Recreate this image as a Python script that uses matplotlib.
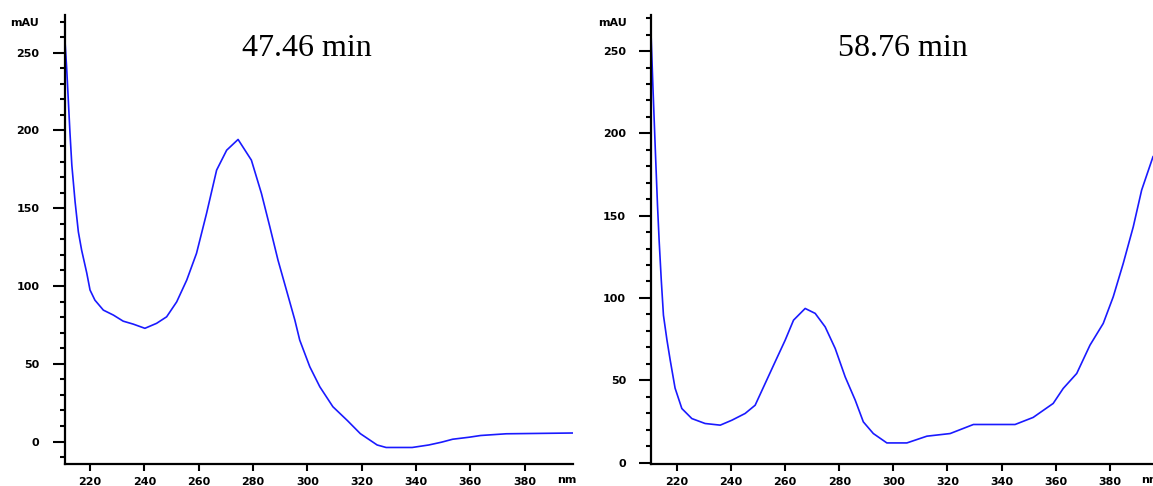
import matplotlib.pyplot as plt
from matplotlib.ticker import MultipleLocator

# spectrum at 47.46 min
wl_a = [210.6, 211.4, 212.0, 212.6, 213.3, 214.5, 215.7, 216.9, 218.8, 220.0,
        221.8, 224.9, 228.6, 232.2, 235.9, 240.2, 244.5, 248.2, 251.9, 255.6,
        259.2, 262.9, 266.6, 270.3, 274.5, 279.4, 283.1, 286.2, 289.2, 292.3,
        295.4, 297.2, 300.9, 304.6, 309.4, 314.8, 319.5, 325.7, 329.0, 338.6,
        344.7, 349.4, 353.5, 359.6, 363.8, 373.2, 397.7]
mau_a = [262.5, 240.0, 219.5, 198.9, 177.7, 154.1, 134.8, 123.1, 108.3, 97.4,
         90.9, 84.5, 81.3, 77.4, 75.5, 72.8, 76.0, 80.2, 89.8, 103.8,
         121.0, 146.7, 174.5, 187.3, 194.2, 180.9, 159.5, 138.0, 116.6, 97.4,
         78.1, 65.2, 48.1, 35.2, 22.4, 13.4, 5.1, -2.2, -3.8, -3.8,
         -2.2, -0.4, 1.5, 2.8, 3.9, 5.0, 5.5]

# spectrum at 58.76 min
wl_b = [210.4, 211.1, 212.0, 212.8, 213.4, 214.2, 215.0, 216.3, 217.5, 219.3,
        221.8, 225.5, 230.4, 236.0, 240.3, 245.2, 248.9, 252.6, 256.3, 260.0,
        263.1, 267.4, 271.1, 274.8, 278.5, 282.2, 285.9, 288.9, 292.6, 297.6,
        305.0, 312.4, 321.0, 329.6, 345.0, 351.7, 359.1, 362.8, 367.8, 372.7,
        377.6, 381.3, 385.0, 388.7, 391.8, 396.0]
mau_b = [261.0, 228.8, 189.8, 156.4, 135.1, 110.8, 89.5, 74.4, 62.2, 45.2,
         32.8, 26.7, 23.7, 22.7, 25.7, 29.8, 34.8, 48.0, 61.2, 74.3,
         86.5, 93.6, 90.6, 82.4, 69.3, 52.0, 37.9, 24.7, 17.6, 11.9,
         11.9, 16.0, 17.6, 23.1, 23.1, 27.4, 35.9, 45.0, 54.1, 71.3,
         84.5, 100.7, 121.0, 143.2, 165.5, 185.8]

titles = ['47.46 min', '58.76 min']
title_x = [0.477, 0.502]
xlims = [(210.6, 397.8), (210.4, 396.0)]
ylims = [(-14.1, 274.2), (-0.6, 271.9)]
xticks = list(range(220, 400, 20))

fig = plt.figure(figsize=(11.53, 4.86), dpi=100)
ax_a = fig.add_axes([64.5 / 1153, 1 - 463.5 / 486, (573 - 64.5) / 1153, 448.5 / 486])
ax_b = fig.add_axes([651 / 1153, 1 - 463.5 / 486, (1153 - 651) / 1153, 448.5 / 486])

tick_font = dict(family='DejaVu Sans', weight='bold', size=8)

for ax, wl, mau, title, tx, xl, yl in zip([ax_a, ax_b], [wl_a, wl_b], [mau_a, mau_b],
                                          titles, title_x, xlims, ylims):
    ax.plot(wl, mau, color='#1a1aff', lw=1.2)
    ax.set_xlim(*xl)
    ax.set_ylim(*yl)
    ax.spines[['top', 'right']].set_visible(False)
    ax.spines[['left', 'bottom']].set_linewidth(1.6)
    ax.yaxis.set_minor_locator(MultipleLocator(10))
    ax.tick_params(axis='y', which='major', length=9, width=1.5, pad=9)
    ax.tick_params(axis='y', which='minor', length=3.5, width=1.5)
    ax.tick_params(axis='x', which='major', length=5, width=1.5, pad=5)
    ax.set_xticks(xticks)
    ax.set_xticklabels([str(t) for t in xticks], fontdict=tick_font)
    yticks = list(range(0 if yl[0] < 0 else 50, 251, 50))
    ax.set_yticks(yticks)
    ax.set_yticklabels([str(t) for t in yticks], fontdict=tick_font)
    ax.text(tx, 0.926, title, transform=ax.transAxes, ha='center', va='center',
            family='Liberation Serif', fontsize=23)

fig.text(10 / 1153, 1 - 23 / 486, 'mAU', ha='left', va='center', **tick_font)
fig.text(598 / 1153, 1 - 23 / 486, 'mAU', ha='left', va='center', **tick_font)
fig.text(557 / 1153, 1 - 480 / 486, 'nm', ha='left', va='center', **tick_font)
fig.text(1141 / 1153, 1 - 480 / 486, 'nm', ha='left', va='center', **tick_font)

fig.savefig('out.png', dpi=100)
